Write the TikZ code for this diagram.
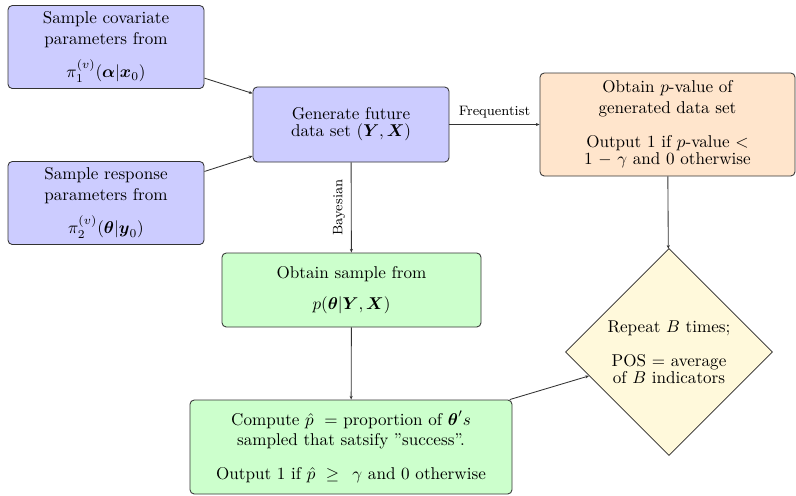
\documentclass[tikz,border=0pt]{standalone}
\usepackage{amsmath,amssymb}
\usetikzlibrary{shapes.geometric,arrows.meta}
\newcommand\pu{0.585pt}
\definecolor{boxblue}{RGB}{204,204,255}
\definecolor{boxorange}{RGB}{255,229,204}
\definecolor{boxgreen}{RGB}{204,255,204}
\definecolor{boxyellow}{RGB}{255,249,219}
\begin{document}
\begin{tikzpicture}[x=\pu,y=-\pu,
  box/.style={draw=black!80,rounded corners=2.5pt,align=center,inner sep=0pt,line width=0.5pt},
  bluebox/.style={box,fill=boxblue},
  orangebox/.style={box,fill=boxorange},
  greenbox/.style={box,fill=boxgreen},
  decision/.style={draw=black!85,diamond,aspect=1,fill=boxyellow,align=center,inner sep=0pt,line width=0.4pt},
  conn/.style={-{Stealth[length=2.2pt,width=1.8pt]},draw=black!80,line width=0.5pt},
  lbl/.style={font=\footnotesize}]
\useasboundingbox (0,0) rectangle (796,495);
\node[bluebox,minimum width=196*\pu,minimum height=83*\pu] (cov) at (106,47)
  {Sample covariate\\ parameters from\\[6pt] $\pi_1^{(v)}(\boldsymbol{\alpha}|\boldsymbol{x}_0)$};
\node[bluebox,minimum width=196*\pu,minimum height=83*\pu] (resp) at (106,203)
  {Sample response\\ parameters from\\[6pt] $\pi_2^{(v)}(\boldsymbol{\theta}|\boldsymbol{y}_0)$};
\node[bluebox,minimum width=196*\pu,minimum height=75*\pu] (gen) at (351,124.5)
  {Generate future\\[-2pt] data set $(\boldsymbol{Y},\boldsymbol{X})$};
\node[orangebox,minimum width=255*\pu,minimum height=103*\pu] (freq) at (667.5,124.5)
  {Obtain $p$-value of\\ generated data set\\[8pt] Output 1 if $p$-value $<$\\[-2pt] 1 $-$ $\gamma$ and 0 otherwise};
\node[greenbox,minimum width=259*\pu,minimum height=74*\pu] (samp) at (351.5,290)
  {Obtain sample from\\[6pt] $p(\boldsymbol{\theta}|\boldsymbol{Y},\boldsymbol{X})$};
\node[greenbox,minimum width=322*\pu,minimum height=94*\pu] (comp) at (351,447)
  {Compute $\hat{p}\;$ $=$ proportion of $\boldsymbol{\theta}'s$\\ sampled that satsify ''success''.\\[8pt] Output 1 if $\hat{p}\ \geq\ \,\gamma$ and 0 otherwise};
\node[decision,minimum width=207*\pu,minimum height=207*\pu] (rep) at (669,352)
  {Repeat $B$ times;\\[8pt] POS $=$ average\\[-2pt] of $B$ indicators};
\draw[conn] (cov) -- (gen);
\draw[conn] (resp) -- (gen);
\draw[conn] (gen) -- node[lbl,above] {Frequentist} (freq);
\draw[conn] (gen) -- node[lbl,rotate=90,anchor=south] {Bayesian} (samp);
\draw[conn] (samp) -- (comp);
\draw[conn] (freq) -- (rep);
\draw[conn] (comp) -- (rep);
\end{tikzpicture}
\end{document}
